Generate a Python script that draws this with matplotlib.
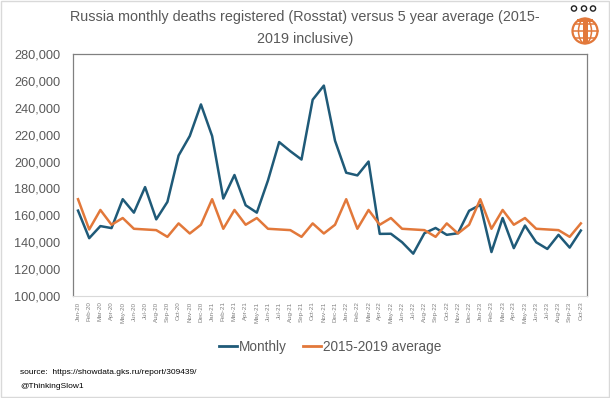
import numpy as np
import matplotlib.pyplot as plt
from matplotlib.patches import Circle, Ellipse, Rectangle
from matplotlib.lines import Line2D

plt.rcParams['font.family'] = ['Liberation Sans', 'DejaVu Sans']

mois = ["Jan", "Feb", "Mar", "Apr", "May", "Jun", "Jul", "Aug", "Sep", "Oct", "Nov", "Dec"]
annees = ["20", "21", "22", "23"]
etiquettes = [f"{m}-{a}" for a in annees for m in mois][:46]

mensuel = [
    163500, 143000, 152000, 150500, 172000, 162000, 181000, 157000, 170000, 204500, 219000, 242500,
    219000, 172500, 190000, 167500, 162000, 186000, 214500, 207700, 201500, 246000, 256500, 215500,
    191700, 189700, 200000, 146200, 146300, 140000, 131500, 146700, 150600, 145500, 146700, 163400,
    167800, 132700, 158000, 135600, 152400, 140000, 135000, 145500, 136000, 148700,
]
moyenne = [
    172000, 149500, 164000, 153000, 158000, 150000, 149500, 149000, 144000, 154000, 146500, 153000,
    172000, 150000, 164000, 153000, 158000, 150000, 149500, 149000, 144000, 154000, 146500, 153000,
    172000, 150000, 164000, 153000, 158000, 150000, 149500, 149000, 144000, 154000, 146500, 153000,
    172000, 150000, 164000, 153000, 158000, 150000, 149500, 149000, 144000, 154000,
]

bleu = "#1f5a78"
orange = "#e2783a"
gris = "#595959"

fig = plt.figure(figsize=(6.1, 3.98), dpi=100)
ax = fig.add_axes([73 / 610, 102 / 398, 514 / 610, 242 / 398])

x = np.arange(len(etiquettes))
ax.plot(x, mensuel, color=bleu, lw=1.8, label="Monthly")
ax.plot(x, moyenne, color=orange, lw=1.8, label="2015-2019 average")

ax.set_xlim(-0.45, 45.55)
ax.set_ylim(100000, 280000)
ax.set_yticks(np.arange(100000, 280001, 20000))
ax.set_yticklabels([f"{v:,}" for v in range(100000, 280001, 20000)], fontsize=9.2, color=gris)
ax.set_xticks(x)
ax.set_xticklabels(etiquettes, rotation=90, fontsize=4.5, color="#808080")
ax.tick_params(axis="both", length=0)
ax.tick_params(axis="y", pad=9)
ax.tick_params(axis="x", pad=4)

for cote in ["left", "top", "right"]:
    ax.spines[cote].set_color("#808080")
    ax.spines[cote].set_linewidth(0.9)
ax.spines["bottom"].set_color("#d9d9d9")
ax.spines["bottom"].set_linewidth(0.8)

fig.text(0.5, 1 - 17 / 398, "Russia monthly deaths registered (Rosstat) versus 5 year average (2015-",
         ha="center", va="center", fontsize=10.4, color=gris)
fig.text(0.5, 1 - 39 / 398, "2019 inclusive)", ha="center", va="center", fontsize=10.4, color=gris)

poignees = [Line2D([0], [0], color=bleu, lw=2), Line2D([0], [0], color=orange, lw=2)]
fig.legend(poignees, ["Monthly", "2015-2019 average"], loc="center", bbox_to_anchor=(0.541, 0.128),
           ncol=2, frameon=False, fontsize=9.8, labelcolor=gris, handlelength=1.3,
           handletextpad=0.15, columnspacing=1.2)

fig.text(20 / 610, 1 - 372 / 398, "source:  https://showdata.gks.ru/report/309439/",
         fontsize=6, va="center", color="black")
fig.text(20 / 610, 1 - 386 / 398, "@ThinkingSlow1", fontsize=6, va="center", color="black")

# logo
lg = fig.add_axes([560 / 610, 1 - 48 / 398, 50 / 610, 48 / 398])
lg.set_xlim(0, 50)
lg.set_ylim(48, 0)
lg.set_aspect("equal")
lg.axis("off")
lg.add_patch(Circle((25, 31), 12.5, fill=False, ec=orange, lw=1.6))
lg.add_patch(Ellipse((25, 31), 13, 25, fill=False, ec=orange, lw=1.1))
for yy in [24, 31, 38]:
    dx = np.sqrt(12.5 ** 2 - (yy - 31) ** 2)
    lg.plot([25 - dx, 25 + dx], [yy, yy], color=orange, lw=1.1)
lg.add_patch(Rectangle((22.5, 20), 5, 23, color=orange, lw=0))
lg.add_patch(Rectangle((17, 18.5), 16, 3, color=orange, lw=0))
for cx in [14, 24, 33]:
    lg.add_patch(Circle((cx, 8.5), 2.6, fill=False, ec="#222222", lw=1.0))

fig.patches.append(Rectangle((0.002, 0.002), 0.996, 0.996, transform=fig.transFigure,
                             fill=False, ec="#d9d9d9", lw=1))

fig.savefig("out.png", dpi=100)
